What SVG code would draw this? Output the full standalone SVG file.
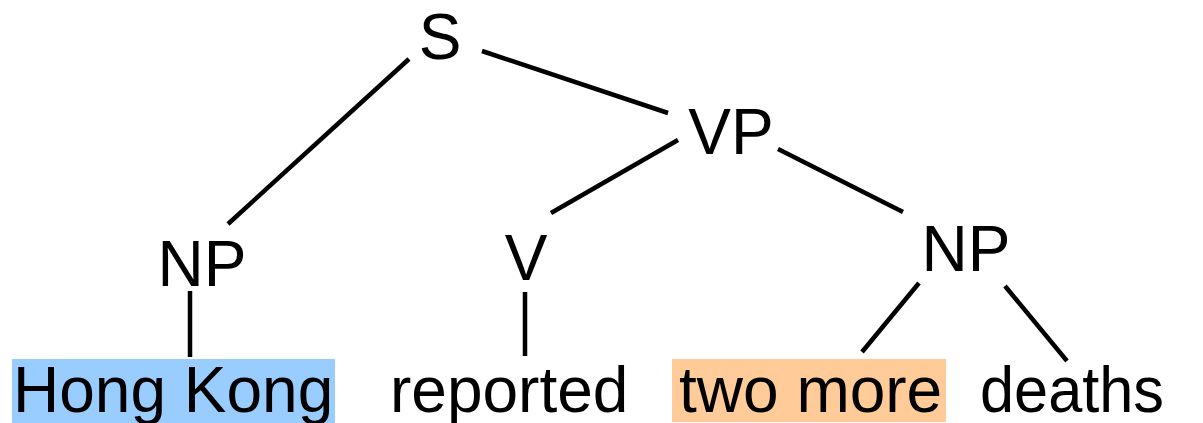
<svg xmlns="http://www.w3.org/2000/svg" width="1203" height="423" viewBox="0 0 1203 423">
<style>
text{font-family:"Liberation Sans",Arial,sans-serif;font-size:64px;fill:#000}
.lab{text-anchor:middle}
.e{stroke:#000;stroke-width:4.5;fill:none}
</style>
<rect width="1203" height="423" fill="#fff"/>
<g id="connectors">
<line class="e" x1="409" y1="59" x2="228" y2="224"/>
<line class="e" x1="482" y1="51" x2="668" y2="113"/>
<line class="e" x1="678" y1="140" x2="551" y2="213"/>
<line class="e" x1="778" y1="149" x2="903" y2="212"/>
<line class="e" x1="190" y1="291" x2="190" y2="357"/>
<line class="e" x1="525" y1="292" x2="525" y2="356"/>
<line class="e" x1="919" y1="283" x2="862" y2="352"/>
<line class="e" x1="1005" y1="286" x2="1067" y2="361"/>
</g>
<g id="S"><text class="lab" x="440" y="59">S</text></g>
<g id="VP"><text class="lab" x="731" y="154">VP</text></g>
<g id="NP1"><text class="lab" x="202" y="286">NP</text></g>
<g id="V"><text class="lab" x="526" y="280">V</text></g>
<g id="NP2"><text class="lab" x="966" y="271">NP</text></g>
<g id="w1"><rect x="12" y="359" width="323" height="64" fill="#99ccff"/><text x="13" y="412">Hong Kong</text></g>
<g id="w2"><text x="390" y="412">reported</text></g>
<g id="w3"><rect x="672" y="359" width="274" height="63" fill="#ffcc99"/><text x="679" y="412">two more</text></g>
<g id="w4"><text x="980" y="412" textLength="184" lengthAdjust="spacingAndGlyphs">deaths</text></g>
</svg>
